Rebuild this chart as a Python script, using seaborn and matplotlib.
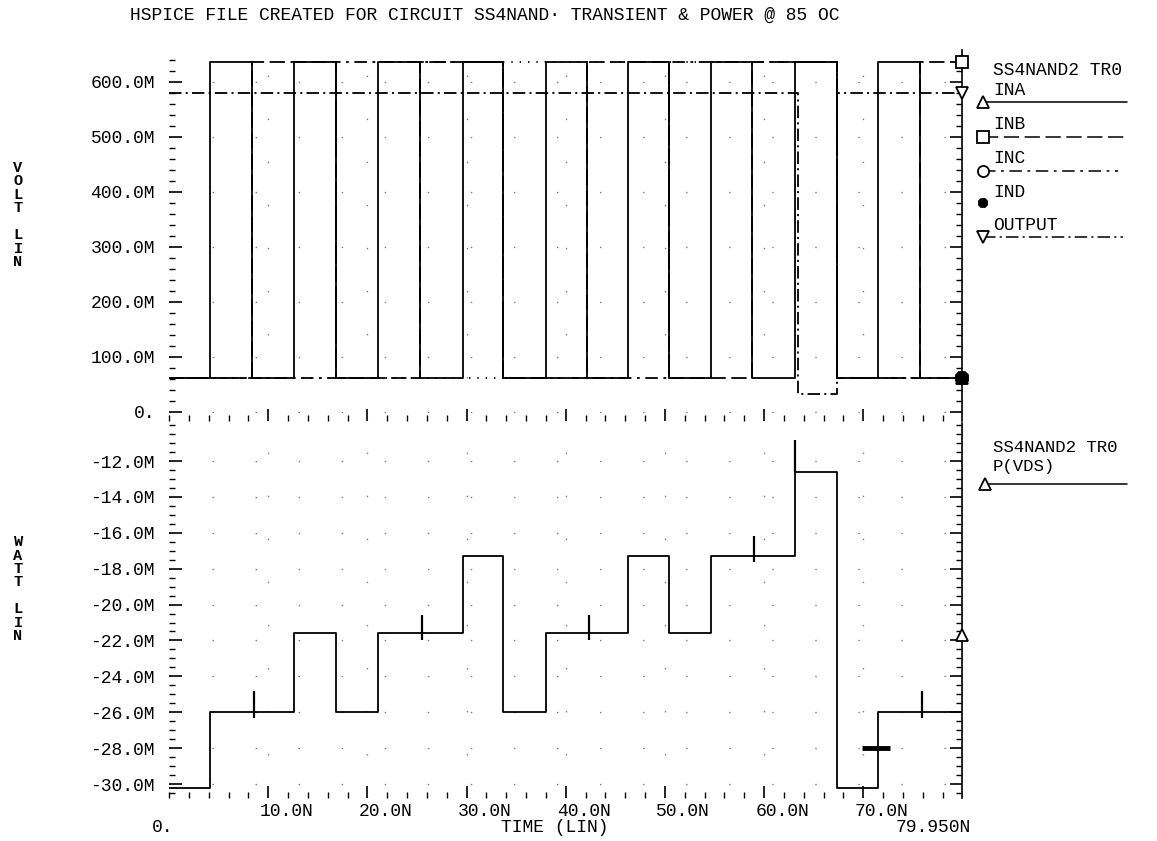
import matplotlib
matplotlib.use("Agg")
import matplotlib.pyplot as plt
from matplotlib.ticker import MultipleLocator
import seaborn as sns

# ---------------- data ----------------
title = "HSPICE FILE CREATED FOR CIRCUIT SS4NAND\u00b7 TRANSIENT & POWER @ 85 OC"
circuit_tag = "SS4NAND2 TR0"
t_end_ns = 79.95

# input switching instants (ns) and logic state of each input in every interval
edge_times_ns = [4.1, 8.4, 12.6, 16.8, 21.1, 25.3, 29.6, 33.7, 38.0,
                 42.1, 46.3, 50.4, 54.6, 58.8, 63.1, 67.3, 71.5, 75.7]
ina_state = [0, 1, 0, 1, 0, 1, 0, 1, 0, 1, 0, 1, 0, 1, 0, 1, 0, 1, 0]
inb_state = [0, 0, 1, 1, 0, 0, 1, 1, 0, 0, 1, 1, 0, 0, 1, 1, 0, 0, 1]
inc_state = [0, 0, 0, 0, 1, 1, 1, 1, 0, 0, 0, 0, 1, 1, 1, 1, 0, 0, 0]
ind_state = [0, 0, 0, 0, 0, 0, 0, 0, 1, 1, 1, 1, 1, 1, 1, 1, 0, 0, 0]
in_low_v = 0.062
in_high_v = 0.636

out_times_ns = [63.4, 67.3]
out_levels_v = [0.580, 0.033, 0.580]

# P(VDS) plateau per interval (mW) and glitches
pvds_levels_mw = [-30.2, -26.0, -26.0, -21.6, -26.0, -21.6, -21.6, -17.3, -26.0, -21.6,
                  -21.6, -17.3, -21.6, -17.3, -17.3, -12.6, -30.2, -26.0, -26.0]
spike_times_ns = [8.6, 25.5, 42.3, 59.0, 63.1, 75.9]
spike_top_mw = [-24.8, -20.6, -20.6, -16.2, -10.8, -24.8]
spike_bot_mw = [-26.3, -22.0, -22.0, -17.6, -12.6, -26.3]
glitch_span_ns = [69.9, 72.7]
glitch_mw = -28.0
pvds_marker_mw = -21.7

volt_ticks = [0.0, 0.1, 0.2, 0.3, 0.4, 0.5, 0.6]
volt_ticklabels = ["0.", "100.0M", "200.0M", "300.0M", "400.0M", "500.0M", "600.0M"]
watt_ticks = [-12, -14, -16, -18, -20, -22, -24, -26, -28, -30]
watt_ticklabels = ["-12.0M", "-14.0M", "-16.0M", "-18.0M", "-20.0M",
                   "-22.0M", "-24.0M", "-26.0M", "-28.0M", "-30.0M"]
time_ticks_ns = [10, 20, 30, 40, 50, 60, 70]
time_ticklabels = ["10.0N", "20.0N", "30.0N", "40.0N", "50.0N", "60.0N", "70.0N"]

series_names = ["INA", "INB", "INC", "IND", "OUTPUT"]
power_name = "P(VDS)"

# ---------------- style ----------------
sns.set_theme(style="white")
plt.rcParams["font.family"] = ["Liberation Mono", "DejaVu Sans Mono"]
plt.rcParams["lines.scale_dashes"] = False

W, H = 1157, 841
fig = plt.figure(figsize=(W / 100, H / 100), dpi=100)


def fx(px):
    return px / W


def fy(py):
    return 1 - py / H


X0, X1 = 169, 962
ax_v = fig.add_axes([fx(X0), fy(421), fx(X1) - fx(X0), fy(50) - fy(421)])
ax_p = fig.add_axes([fx(X0), fy(798), fx(X1) - fx(X0), fy(423) - fy(798)], sharex=ax_v)


def step_xy(edges, vals, t_end):
    xs, ys = [0.0], [vals[0]]
    for i, e in enumerate(edges):
        xs += [e, e]
        ys += [vals[i], vals[i + 1]]
    xs.append(t_end)
    ys.append(vals[-1])
    return xs, ys


def volts(states):
    return [in_high_v if s else in_low_v for s in states]


styles = {
    "INA": dict(ls="-", marker="^", mfc="white"),
    "INB": dict(ls=(0, (11, 4)), marker="s", mfc="white"),
    "INC": dict(ls=(0, (9, 4, 2, 4)), marker="o", mfc="white"),
    "IND": dict(ls=(0, (1, 5)), marker="8", mfc="black"),
    "OUTPUT": dict(ls=(0, (9, 3, 1.5, 3)), marker="v", mfc="white"),
}

traces = {
    "IND": step_xy(edge_times_ns, volts(ind_state), t_end_ns),
    "INC": step_xy(edge_times_ns, volts(inc_state), t_end_ns),
    "INB": step_xy(edge_times_ns, volts(inb_state), t_end_ns),
    "OUTPUT": step_xy(out_times_ns, out_levels_v, t_end_ns),
    "INA": step_xy(edge_times_ns, volts(ina_state), t_end_ns),
}

for name in ["IND", "INC", "INB", "OUTPUT", "INA"]:
    xs, ys = traces[name]
    st = styles[name]
    sns.lineplot(x=xs, y=ys, ax=ax_v, color="black", lw=1.3, linestyle=st["ls"],
                 estimator=None, sort=False, legend=False)

# end markers at the right axis
for name in ["INA", "INC", "INB", "OUTPUT", "IND"]:
    xs, ys = traces[name]
    st = styles[name]
    ax_v.plot(xs[-1], ys[-1], marker=st["marker"], mfc=st["mfc"], mec="black",
              mew=1.3, ms=10 if name == "IND" else 8, clip_on=False, zorder=6)

# power trace
px_, py_ = step_xy(edge_times_ns, pvds_levels_mw, t_end_ns)
sns.lineplot(x=px_, y=py_, ax=ax_p, color="black", lw=1.3,
             estimator=None, sort=False, legend=False)
ax_p.vlines(spike_times_ns, spike_bot_mw, spike_top_mw, color="black", lw=1.6)
ax_p.hlines(glitch_mw, glitch_span_ns[0], glitch_span_ns[1], color="black", lw=3.5)
ax_p.plot(t_end_ns, pvds_marker_mw, marker="^", mfc="white", mec="black", mew=1.3,
          ms=9, clip_on=False, zorder=6)

# ---------------- axes ----------------
ax_v.set_xlim(0, t_end_ns)
ax_v.set_ylim(-0.0164, 0.658)
ax_p.set_ylim(-30.78, -9.88)

ax_v.set_yticks(volt_ticks, volt_ticklabels)
ax_v.yaxis.set_minor_locator(MultipleLocator(0.02))
ax_p.set_yticks(watt_ticks, watt_ticklabels)
ax_p.yaxis.set_minor_locator(MultipleLocator(0.5))
ax_p.set_xticks(time_ticks_ns)
ax_p.xaxis.set_minor_locator(MultipleLocator(2))

for ax in (ax_v, ax_p):
    ax.set_facecolor("white")
    ax.tick_params(which="major", direction="in", length=9, width=1.2, color="black",
                   left=True, right=True, bottom=True, top=False,
                   labelsize=13, labelcolor="black")
    ax.tick_params(which="minor", direction="in", length=4.5, width=1.0, color="black",
                   left=True, right=True, bottom=True, top=False)
    ax.tick_params(axis="y", pad=10)
    ax.tick_params(axis="x", labelbottom=False)
    for side in ("left", "top", "bottom"):
        ax.spines[side].set_visible(False)
    ax.spines["right"].set_visible(True)
    ax.spines["right"].set_color("black")
    ax.spines["right"].set_linewidth(1.2)
    ax.grid(True, which="major", color="0.45", lw=0.9, linestyle=(0, (1, 30)))
    ax.set_xlabel("")

# time labels (printed slightly right of their ticks, as in the plot)
for t, s in zip(time_ticks_ns, time_ticklabels):
    ax_p.annotate(s, xy=(t, 0), xycoords=("data", "axes fraction"),
                  xytext=(18, -14), textcoords="offset pixels",
                  ha="center", va="center", fontsize=13, color="black")
ax_p.annotate("0.", xy=(0, 0), xycoords=("data", "axes fraction"),
              xytext=(-6, -30), textcoords="offset pixels",
              ha="center", va="center", fontsize=13, color="black")
ax_p.annotate("79.950N", xy=(t_end_ns, 0), xycoords=("data", "axes fraction"),
              xytext=(-29, -30), textcoords="offset pixels",
              ha="center", va="center", fontsize=13, color="black")
ax_p.set_xlabel("TIME (LIN)", fontsize=13, color="black")
ax_p.xaxis.set_label_coords(0.487, -30 / 375)
ax_p.xaxis.label.set_va("center")

ax_v.set_ylabel("V\nO\nL\nT\n\nL\nI\nN", rotation=0, fontsize=11, fontweight="bold",
                linespacing=0.95, color="black", ha="center", va="center")
ax_v.yaxis.set_label_coords((18 - X0) / (X1 - X0), 0.555)
ax_p.set_ylabel("W\nA\nT\nT\n\nL\nI\nN", rotation=0, fontsize=11, fontweight="bold",
                linespacing=0.95, color="black", ha="center", va="center")
ax_p.yaxis.set_label_coords((18 - X0) / (X1 - X0), 0.557)

fig.text(fx(130), fy(15), title, ha="left", va="center", fontsize=13, color="black")

# ---------------- legend panel (pixel coordinates) ----------------
ax_l = fig.add_axes([0, 0, 1, 1], zorder=-1)
ax_l.set_xlim(0, W)
ax_l.set_ylim(H, 0)
ax_l.axis("off")
ax_l.patch.set_visible(False)

ax_l.text(993, 70, circuit_tag, ha="left", va="center", fontsize=13, color="black")
text_y = [90, 124, 158, 192, 225]
line_y = [102, 137, 171, 203, 237]
line_end = [1127, 1125, 1118, None, 1123]
for name, ty, ly, le in zip(series_names, text_y, line_y, line_end):
    st = styles[name]
    ax_l.text(993, ty, name, ha="left", va="center", fontsize=13, color="black")
    if le is not None:
        ax_l.plot([983, le], [ly, ly], color="black", lw=1.1, linestyle=st["ls"])
    ax_l.plot(983, ly, marker=st["marker"], mfc=st["mfc"], mec="black", mew=1.3,
              ms=6 if name == "IND" else 8)

ax_l.text(993, 447, circuit_tag, ha="left", va="center", fontsize=12.5, color="black")
ax_l.text(993, 466, power_name, ha="left", va="center", fontsize=12.5, color="black")
ax_l.plot([985, 1127], [484, 484], color="black", lw=1.1)
ax_l.plot(985, 484, marker="^", mfc="white", mec="black", mew=1.3, ms=8)

fig.savefig("out.png", dpi=100, facecolor="white")
